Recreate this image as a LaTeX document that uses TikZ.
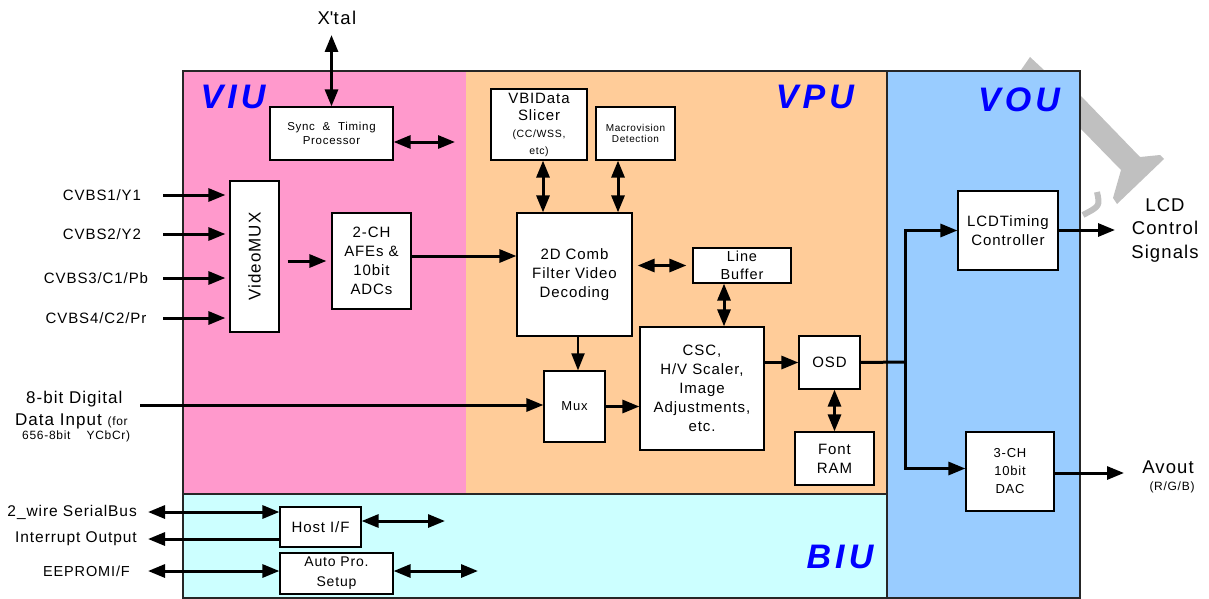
\documentclass[tikz,border=0pt]{standalone}
\usepackage{fontspec}
\setmainfont{Liberation Sans}[LetterSpace=6]
\usetikzlibrary{arrows.meta}
\definecolor{viuc}{HTML}{FF99CC}
\definecolor{vpuc}{HTML}{FFCC99}
\definecolor{vouc}{HTML}{99CCFF}
\definecolor{biuc}{HTML}{CCFFFF}
\definecolor{lblc}{HTML}{0000FF}
\definecolor{wmc}{HTML}{C0C0C0}
\newcommand\fsz[2]{\fontsize{#1}{#2}\selectfont}
\begin{document}
\begin{tikzpicture}[x=1pt,y=-1pt,
 >={Triangle[length=17pt,width=13pt]},
 box/.style={draw=black, line width=1.2pt, fill=white, align=center, inner sep=1pt, font=\fsz{15}{19}},
 lbl/.style={inner sep=0pt, align=center, font=\fsz{15}{19}},
 unit/.style={inner sep=0pt, text=lblc, font=\fsz{34}{40}\bfseries\itshape\addfontfeatures{LetterSpace=12}},
 region/.style={draw=black!85, line width=1.5pt},
 arr/.style={line width=3pt, ->},
 dbl/.style={line width=3pt, <->},
 ln/.style={line width=3pt},
]
\useasboundingbox (0,0) rectangle (1209,599);
% watermark
\fill[wmc] (1030,57) -- (1044,70) -- (1080,95) -- (1140,157) -- (1160,155) -- (1164,159) -- (1117,204) -- (1113,198) -- (1121,170) -- (1080,128) -- (1021,70) -- cycle;
\draw[wmc, line width=6pt] (1097,192) .. controls (1100,206) .. (1083,215);
% regions
\fill[viuc] (183,71) rectangle (466,494);
\fill[vpuc] (466,71) rectangle (887,494);
\draw[region, fill=biuc] (183,494) rectangle (887,598);
\draw[region, fill=vouc] (887,71) rectangle (1080,598);
\draw[region] (183,71) rectangle (1080,598);
% unit labels
\node[unit] (viu) at (233,97) {VIU};
\node[unit] (vpu) at (815,97) {VPU};
\node[unit] (vou) at (1019,100) {VOU};
\node[unit] (biu) at (840,557) {BIU};
% boxes
\node[box, minimum width=123pt, minimum height=53pt, font=\fsz{11.5}{14}] (sync) at (331.5,133.5) {Sync \ \& \ Timing\\Processor};
\node[box, minimum width=49pt, minimum height=151pt, font=\fsz{17}{20}] (vmux) at (254.5,256.5) {\rotatebox{90}{VideoMUX}};
\node[box, minimum width=79pt, minimum height=96pt] (afe) at (371.5,261) {2-CH\\AFEs \&\\10bit\\ADCs};
\node[box, minimum width=96pt, minimum height=71pt, inner sep=0pt, font=\fsz{15}{17}] (vbi) at (539,124.5) {VBIData\\Slicer\\{\fsz{10.5}{17}(CC/WSS,}\\{\fsz{10.5}{17}etc)}};
\node[box, minimum width=79pt, minimum height=53pt, font=\fsz{10}{11.5}] (macro) at (635.5,133.5) {Macrovision\\Detection};
\node[box, minimum width=115pt, minimum height=123pt] (comb) at (574.5,274.5) {2D Comb\\Filter Video\\Decoding};
\node[box, minimum width=98pt, minimum height=35pt, inner sep=0pt, font=\fsz{14.5}{18}] (lbuf) at (742,265.5) {Line\\Buffer};
\node[box, minimum width=124pt, minimum height=123pt] (csc) at (702,388.5) {CSC,\\H/V Scaler,\\Image\\Adjustments,\\etc.};
\node[box, minimum width=61pt, minimum height=71pt, font=\fsz{13}{16}] (mux) at (574.5,406.5) {Mux};
\node[box, minimum width=61pt, minimum height=53pt] (osd) at (829.5,362.5) {OSD};
\node[box, minimum width=79pt, minimum height=53pt] (fram) at (834.5,458.5) {Font\\RAM};
\node[box, minimum width=100pt, minimum height=79pt] (lcd) at (1008,230.5) {LCDTiming\\Controller};
\node[box, minimum width=88pt, minimum height=79pt, font=\fsz{13}{18}] (dac) at (1010,471.5) {3-CH\\10bit\\DAC};
\node[box, minimum width=81pt, minimum height=40pt] (host) at (320.5,527) {Host I/F};
\node[box, minimum width=113pt, minimum height=41pt, inner sep=0pt, font=\fsz{14}{20}] (auto) at (336.5,573.5) {Auto Pro.\\Setup};
% outside labels
\node[lbl, font=\fsz{18.5}{22}\addfontfeatures{LetterSpace=9}] (xtal) at (337,18) {X\textquotesingle tal};
\node[lbl] (cv1) at (102,195) {CVBS1/Y1};
\node[lbl] (cv2) at (102,234) {CVBS2/Y2};
\node[lbl] (cv3) at (96,278) {CVBS3/C1/Pb};
\node[lbl] (cv4) at (96,318) {CVBS4/C2/Pr};
\node[lbl, anchor=base west, font=\fsz{17}{20}] (dig1) at (26,403) {8-bit Digital};
\node[lbl, anchor=base west, font=\fsz{17}{20}] (dig2) at (15,425) {Data Input {\fsz{12}{14}(for}};
\node[lbl, anchor=base west, font=\fsz{12}{14}] (dig3) at (22,439) {656-8bit\hspace{16pt}YCbCr)};
\node[lbl, font=\fsz{18.5}{23.5}] (lcdsig) at (1165,230) {LCD\\Control\\Signals};
\node[lbl, font=\fsz{18.5}{20}] (avout) at (1168,467) {Avout};
\node[lbl, font=\fsz{12}{14}] (rgb) at (1172,487) {(R/G/B)};
\node[lbl, anchor=east, font=\fsz{15.5}{18}] (w2) at (137,512) {2\_wire SerialBus};
\node[lbl, anchor=east, font=\fsz{15.5}{18}] (intr) at (137,539) {Interrupt Output};
\node[lbl, anchor=east, font=\fsz{14.5}{18}] (eeprom) at (130,571) {EEPROMI/F};
% free ends
\coordinate (inx) at (163,0);
\coordinate (syncr) at (455,142);
\coordinate (digin) at (140,405);
\coordinate (br) at (905,362);
\coordinate (lcdend) at (1115,230);
\coordinate (dacend) at (1124,473);
\coordinate (hostr) at (445,521);
\coordinate (autor) at (478,571);
\coordinate (w2l) at (148,512);
\coordinate (intrl) at (148,539);
\coordinate (eel) at (148,571);
\path ([yshift=-10pt]xtal.south) coordinate (xts);
\path ([yshift=5pt]afe.east) coordinate (afeo);
\path ([xshift=4pt]vbi.south) coordinate (vbis);
\path ([xshift=-17.5pt]macro.south) coordinate (mcs);
\path ([xshift=-18pt]lbuf.south) coordinate (lbs);
\path ([xshift=3.5pt]comb.south) coordinate (cbs);
% connectors
\draw[dbl] (xts -| sync.north) -- (sync.north);
\draw[dbl] (syncr -| sync.east) -- (syncr);
\draw[arr, shorten >=4pt] (cv1 -| inx) -- (cv1 -| vmux.west);
\draw[arr, shorten >=4pt] (cv2 -| inx) -- (cv2 -| vmux.west);
\draw[arr, shorten >=4pt] (cv3 -| inx) -- (cv3 -| vmux.west);
\draw[arr, shorten >=4pt] (cv4 -| inx) -- (cv4 -| vmux.west);
\draw[arr, shorten <=8pt, shorten >=5pt] (vmux.east |- afe.west) -- (afe.west);
\draw[arr] (afeo) -- (afeo -| comb.west);
\draw[arr] (digin) -- (digin -| mux.west);
\draw[dbl] (vbis) -- (vbis |- comb.north);
\draw[dbl] (mcs) -- (mcs |- comb.north);
\draw[dbl, shorten <=5pt, shorten >=6pt] (lbuf.west -| comb.east) -- (lbuf.west);
\draw[dbl] (lbs) -- (lbs |- csc.north);
\draw[arr, line width=2pt] (cbs) -- (cbs |- mux.north);
\draw[arr] (mux.east) -- (mux.east -| csc.west);
\draw[arr] (osd.west -| csc.east) -- (osd.west);
\draw[dbl] (fram.north |- osd.south) -- (fram.north);
\draw[ln] (osd.east) -- (br);
\draw[arr] (br) |- (lcd.west);
\draw[arr] (br) |- ([yshift=3pt]dac.west);
\draw[arr] (lcdend -| lcd.east) -- (lcdend);
\draw[arr] (dacend -| dac.east) -- (dacend);
\draw[dbl] (w2l) -- (w2l -| host.west);
\draw[arr] (intrl -| host.west) -- (intrl);
\draw[dbl] (eel) -- (eel -| auto.west);
\draw[dbl] (hostr -| host.east) -- (hostr);
\draw[dbl] (autor -| auto.east) -- (autor);
\end{tikzpicture}
\end{document}
